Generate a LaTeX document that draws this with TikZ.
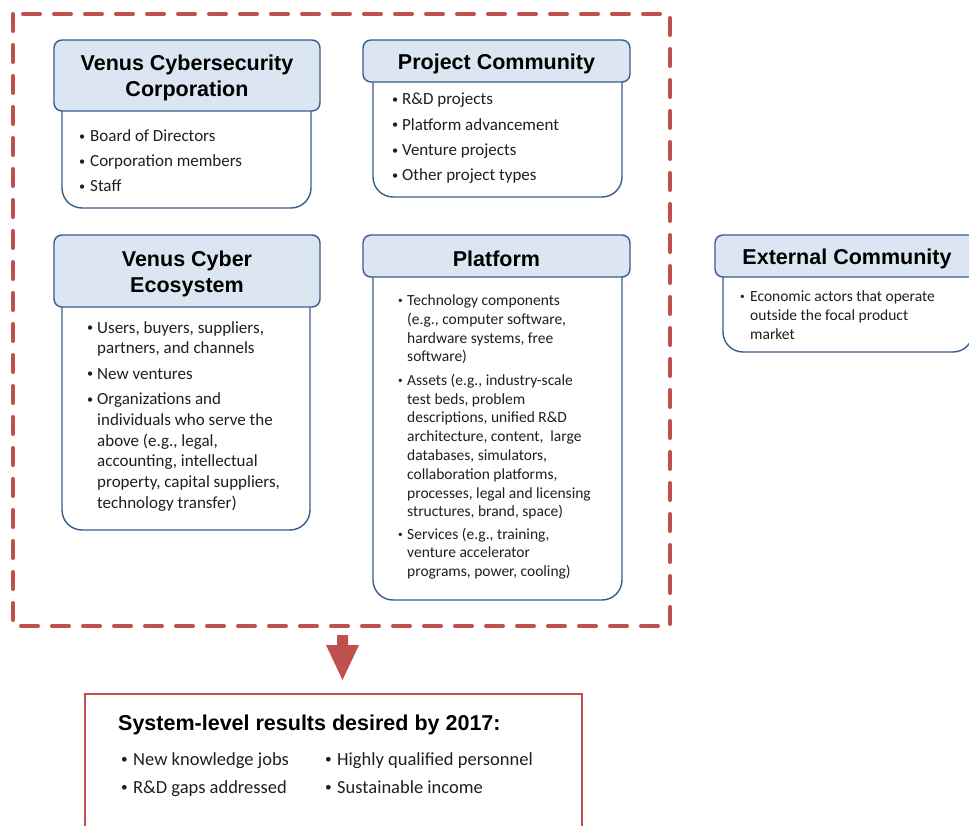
\documentclass[tikz,border=0pt]{standalone}
\usepackage{fontspec}
\setmainfont{Carlito}
\newfontfamily\hfont{Liberation Sans}
\definecolor{hdrfill}{HTML}{DCE6F2}
\definecolor{hdrline}{HTML}{385D8A}
\definecolor{redc}{HTML}{C0504D}
\definecolor{txt}{HTML}{1F1F1F}
\newcommand{\bu}[1][10pt]{\makebox[#1][l]{\raisebox{0.08em}{\scalebox{0.72}{\textbullet}}}}
\newcommand{\bs}[1][8pt]{\makebox[#1][l]{\raisebox{0.12em}{\scalebox{0.6}{\textbullet}}}}
\tikzset{
  hdr/.style={draw=hdrline, line width=1.4pt, fill=hdrfill, rounded corners=8pt, inner sep=0pt},
  hdrtxt/.style={align=center, inner sep=0pt, yshift=-2.5pt, text=black,
    font=\hfont\bfseries\fontsize{21.5}{26}\selectfont},
  bodyline/.style={draw=hdrline, line width=1.4pt, rounded corners=20pt, fill=white},
  bodytxt/.style={anchor=base west, inner sep=0pt, text=txt},
  bigtxt/.style={bodytxt, font=\fontsize{17}{20.7}\selectfont},
  smalltxt/.style={bodytxt, font=\fontsize{15.5}{18.8}\selectfont},
  frame/.style={draw=redc, line width=4pt, dash pattern=on 17pt off 14pt, line cap=round},
}
\begin{document}
\begin{tikzpicture}[x=1pt,y=-1pt]
\useasboundingbox (0,0) rectangle (969,826);
\clip (0,0) rectangle (969,826);

% dashed frame
\draw[frame] (13,14) rectangle (670,626);

% ---- Venus Cybersecurity Corporation
\draw[bodyline] (62,80) -- (62,208) -- (311,208) -- (311,80);
\node[hdr, minimum width=266pt, minimum height=71pt] (h1) at (187,75.5) {};
\node[hdrtxt] (h1l) at (h1.center) {Venus Cybersecurity\\Corporation};
\node[bigtxt, font=\fontsize{17}{25}\selectfont] (t1) at (79,142) {\begin{tabular}[t]{@{}l@{}l@{}}
\bu[11pt] & Board of Directors\\
\bu[11pt] & Corporation members\\
\bu[11pt] & Staff
\end{tabular}};

% ---- Project Community
\draw[bodyline] (373,60) -- (373,197) -- (622,197) -- (622,60);
\node[hdr, minimum width=267pt, minimum height=42pt] (h2) at (496.5,61) {};
\node[hdrtxt] (h2l) at (h2.center) {Project Community};
\node[bigtxt, font=\fontsize{17}{25.3}\selectfont] (t2) at (392,105) {\begin{tabular}[t]{@{}l@{}l@{}}
\bu[10pt] & R\&D projects\\
\bu[10pt] & Platform advancement\\
\bu[10pt] & Venture projects\\
\bu[10pt] & Other project types
\end{tabular}};

% ---- External Community
\draw[bodyline] (723,255) -- (723,352) -- (973,352) -- (973,255);
\node[hdr, minimum width=264pt, minimum height=42pt] (h3) at (847,256) {};
\node[hdrtxt] (h3l) at (h3.center) {External Community};
\node[smalltxt, font=\fontsize{15.5}{19}\selectfont] (t3) at (740,301.5) {\begin{tabular}[t]{@{}l@{}l@{}}
\bs[10pt] & Economic actors that operate\\
 & outside the focal product\\
 & market
\end{tabular}};

% ---- Venus Cyber Ecosystem
\draw[bodyline] (62,270) -- (62,530) -- (310,530) -- (310,270);
\node[hdr, minimum width=266pt, minimum height=72pt] (h4) at (187,271) {};
\node[hdrtxt] (h4l) at (h4.center) {Venus Cyber\\Ecosystem};
\node[bigtxt] (t4) at (87,333) {\begin{tabular}[t]{@{}l@{}l@{}}
\bu[10pt] & Users, buyers, suppliers,\\
 & partners, and channels\\[4.8pt]
\bu[10pt] & New ventures\\[4.8pt]
\bu[10pt] & Organizations and\\
 & individuals who serve the\\
 & above (e.g., legal,\\
 & accounting, intellectual\\
 & property, capital suppliers,\\
 & technology transfer)
\end{tabular}};

% ---- Platform
\draw[bodyline] (373,256) -- (373,600) -- (622,600) -- (622,256);
\node[hdr, minimum width=267pt, minimum height=42pt] (h5) at (496.5,256) {};
\node[hdrtxt] (h5l) at (h5.center) {Platform};
\node[smalltxt] (t5) at (398,305.5) {\begin{tabular}[t]{@{}l@{}l@{}}
\bs[9pt] & Technology components\\
 & (e.g., computer software,\\
 & hardware systems, free\\
 & software)\\[4.5pt]
\bs[9pt] & Assets (e.g., industry-scale\\
 & test beds, problem\\
 & descriptions, unified R\&D\\
 & architecture, content,\ \ large\\
 & databases, simulators,\\
 & collaboration platforms,\\
 & processes, legal and licensing\\
 & structures, brand, space)\\[3.5pt]
\bs[9pt] & Services (e.g., training,\\
 & venture accelerator\\
 & programs, power, cooling)
\end{tabular}};

% ---- arrow
\fill[redc] (337,635) -- (348,635) -- (348,645) -- (359,645) -- (342.5,680) -- (326,645) -- (337,645) -- cycle;

% ---- results box
\node[draw=redc, line width=2pt, minimum width=497pt, minimum height=180pt, anchor=north west, inner sep=0pt] (res) at (84,693) {};
\node[bodytxt, text=black, font=\hfont\bfseries\fontsize{21.5}{26}\selectfont] (rt) at (118,730.5) {System-level results desired by 2017:};
\node[bigtxt, font=\fontsize{18.5}{28}\selectfont] (r1) at (121,765) {\begin{tabular}[t]{@{}l@{}l@{}}
\bu[12pt] & New knowledge jobs\\
\bu[12pt] & R\&D gaps addressed
\end{tabular}};
\node[bigtxt, font=\fontsize{18.5}{28}\selectfont] (r2) at (325,765) {\begin{tabular}[t]{@{}l@{}l@{}}
\bu[12pt] & Highly qualified personnel\\
\bu[12pt] & Sustainable income
\end{tabular}};
\end{tikzpicture}
\end{document}
